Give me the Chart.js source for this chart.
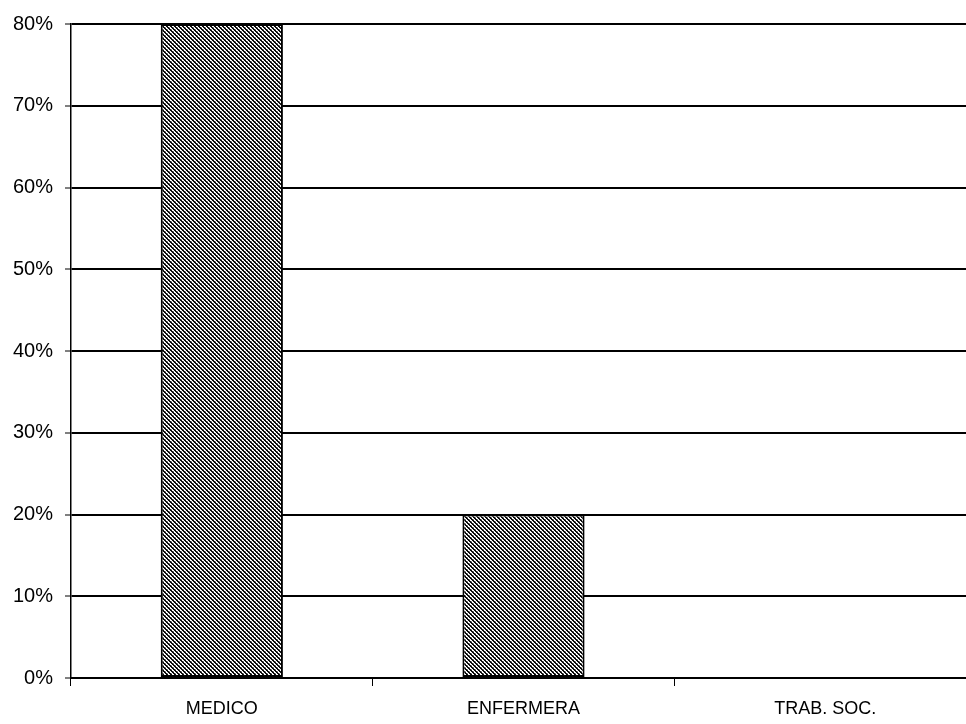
<!DOCTYPE html>
<html>
<head>
<meta charset="utf-8">
<script src="https://cdn.jsdelivr.net/npm/chart.js@4/dist/chart.umd.min.js"></script>
<style>
  html, body { margin: 0; padding: 0; background: #fff; overflow: hidden; }
  #wrap { position: absolute; left: 0; top: 0; width: 976px; height: 724px; }
</style>
</head>
<body>
<div id="wrap"><canvas id="chart"></canvas></div>
<script>
// Share of cases by professional
const categories = ['MEDICO', 'ENFERMERA', 'TRAB. SOC.'];
const percentValues = [80, 20, 0];
const yTicks = [0, 10, 20, 30, 40, 50, 60, 70, 80];

// Dense diagonal hatch used as the bar fill
function hatchPattern() {
  const c = document.createElement('canvas');
  c.width = 4; c.height = 4;
  const g = c.getContext('2d');
  g.fillStyle = '#ffffff';
  g.fillRect(0, 0, 4, 4);
  g.fillStyle = '#0a0a0a';
  for (let y = 0; y < 4; y++) {
    for (let x = 0; x < 4; x++) {
      const d = ((x - y) % 4 + 4) % 4;
      if (d === 0 || d === 1) g.fillRect(x, y, 1, 1);
    }
  }
  g.fillStyle = '#9a9a9a';
  g.fillRect(1, 3, 1, 1);
  g.fillRect(3, 1, 1, 1);
  return document.getElementById('chart').getContext('2d').createPattern(c, 'repeat');
}

const family = '"Liberation Sans", Arial, sans-serif';

new Chart(document.getElementById('chart'), {
  type: 'bar',
  data: {
    labels: categories,
    datasets: [{
      data: percentValues,
      backgroundColor: hatchPattern(),
      borderColor: '#000',
      borderWidth: 2,
      borderSkipped: false,
      barPercentage: 0.405,
      categoryPercentage: 1
    }]
  },
  options: {
    responsive: true,
    maintainAspectRatio: false,
    animation: false,
    devicePixelRatio: 1,
    layout: { padding: { top: 21, right: 0, bottom: 0, left: 0 } },
    plugins: { legend: { display: false }, tooltip: { enabled: false } },
    scales: {
      x: {
        offset: true,
        grid: {
          offset: true,
          drawOnChartArea: false,
          drawTicks: true,
          tickLength: 8,
          color: '#000',
          lineWidth: 1
        },
        border: { display: true, color: '#000', width: 2 },
        ticks: { color: '#000', font: { family: family, size: 18 }, padding: 12, maxRotation: 0 },
        afterFit: s => { s.height = 46; }
      },
      y: {
        min: 0,
        max: 80,
        afterBuildTicks: s => { s.ticks = yTicks.map(v => ({ value: v })); },
        grid: {
          color: '#000',
          lineWidth: 2,
          tickLength: 6,
          tickColor: '#000',
          tickWidth: 1
        },
        border: { display: true, color: '#000', width: 1.5 },
        ticks: {
          color: '#000',
          font: { family: family, size: 20 },
          padding: 12,
          callback: v => v + '%'
        },
        afterFit: s => { s.width = 71; }
      }
    }
  }
});
</script>
</body>
</html>
